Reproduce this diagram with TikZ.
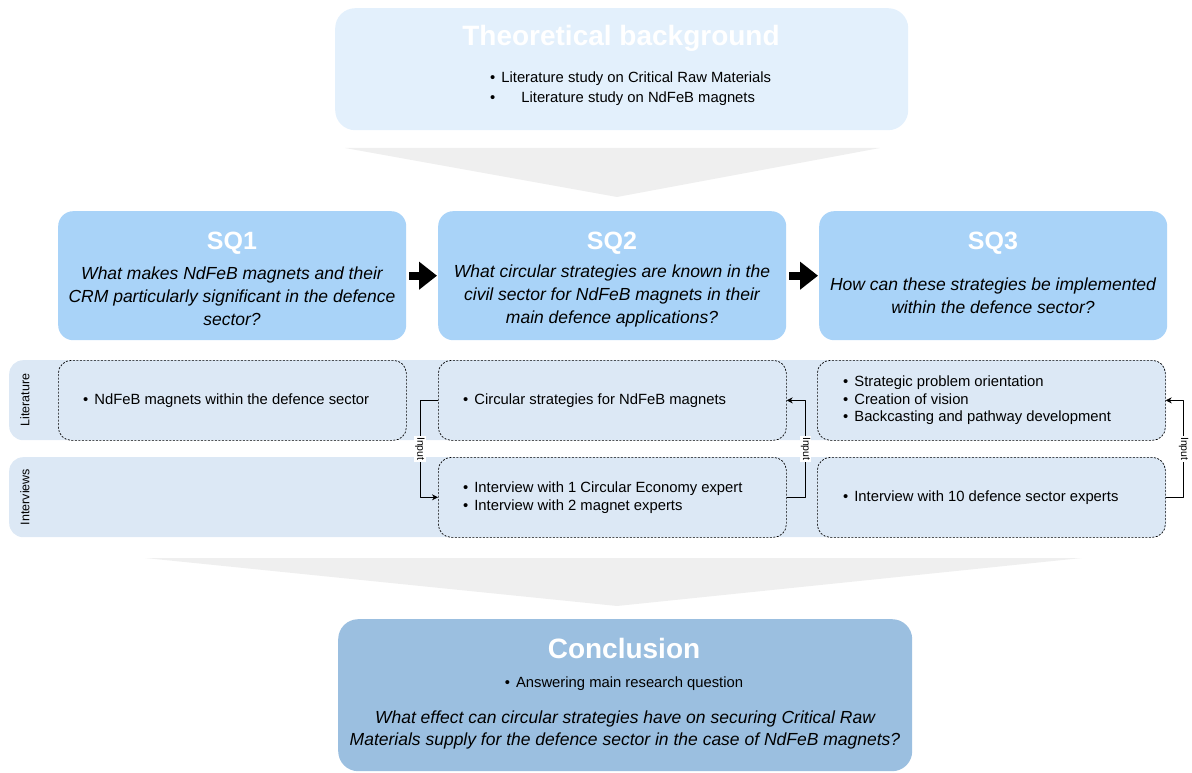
\documentclass[tikz,border=0pt]{standalone}
\usepackage{fontspec}
\setmainfont{Liberation Sans}
\usetikzlibrary{positioning,arrows.meta}
\definecolor{topfill}{HTML}{E3F0FC}
\definecolor{sqfill}{HTML}{A9D3F8}
\definecolor{lanefill}{HTML}{DCE8F5}
\definecolor{conclfill}{HTML}{9BBFE0}
\definecolor{chevfill}{HTML}{EFEFEF}
\begin{document}
\begin{tikzpicture}[x=1pt,y=-1pt,line join=round,
  font=\fontsize{14.8}{17.5}\selectfont,
  panel/.style={anchor=north west,inner sep=0pt,rounded corners=15pt},
  sqbox/.style={panel,fill=sqfill,minimum width=348pt,minimum height=129pt},
  dashbox/.style={panel,draw,fill=lanefill,dash pattern=on 2pt off 1.5pt,line width=0.7pt,
    rounded corners=13pt,minimum width=348pt,minimum height=80pt},
  laneband/.style={panel,fill=lanefill,rounded corners=14pt,minimum width=1157pt,minimum height=80pt},
  bigtitle/.style={text=white,font=\fontsize{28}{32}\selectfont\bfseries},
  sqtitle/.style={text=white,font=\fontsize{25}{30}\selectfont\bfseries},
  question/.style={align=center,font=\fontsize{17.5}{23}\selectfont\itshape},
  items/.style={anchor=west,align=left,inner sep=0pt},
  lanelabel/.style={rotate=90,font=\fontsize{12.5}{15}\selectfont},
  bigarrow/.style={line width=8pt,-{Triangle[length=18pt,width=27pt]}},
  feed/.style={line width=0.8pt,-{Stealth[length=6pt,width=6pt]}},
  feedlabel/.style={rotate=-90,fill=white,inner sep=1pt,font=\fontsize{10.5}{12}\selectfont}]
\useasboundingbox (0,0) rectangle (1192,773);
% theoretical background
\node[panel,fill=topfill,rounded corners=20pt,minimum width=573pt,minimum height=122pt] (theory) at (335,8) {};
\node[bigtitle] (theorytitle) at (621,38) {Theoretical background};
\node[items,font=\fontsize{14.8}{20}\selectfont] (theoryitems) at (490,89)
  {\textbullet\hspace{6pt}Literature study on Critical Raw Materials\\
   \textbullet\hspace{26pt}Literature study on NdFeB magnets};
\fill[chevfill] (345,148) -- (880,148) -- (617,197) -- cycle;
% sub questions
\node[sqbox] (sq1) at (58,211) {};
\node[sqbox] (sq2) at (438,211) {};
\node[sqbox] (sq3) at (819,211) {};
\node[sqtitle] (sq1title) at (232,243) {SQ1};
\node[sqtitle] (sq2title) at (612,243) {SQ2};
\node[sqtitle] (sq3title) at (993,243) {SQ3};
\node[question] (sq1q) at (232,296) {What makes NdFeB magnets and their\\CRM particularly significant in the defence\\sector?};
\node[question] (sq2q) at (612,296) {What circular strategies are known in the\\civil sector for NdFeB magnets in their\\main defence applications?};
\node[question] (sq3q) at (993,296) {How can these strategies be implemented\\within the defence sector?};
\draw[bigarrow,shorten <=3pt,shorten >=1pt] (sq1) -- (sq2);
\draw[bigarrow,shorten <=3pt,shorten >=1pt] (sq2) -- (sq3);
% lanes
\node[laneband] (litlane) at (9,360) {};
\node[laneband] (intlane) at (9,457) {};
\node[lanelabel] (litlabel) at (25,400) {Literature};
\node[lanelabel] (intlabel) at (25,497) {Interviews};
\node[dashbox] (lit1) at (58,360) {};
\node[dashbox] (lit2) at (438,360) {};
\node[dashbox] (lit3) at (817,360) {};
\node[dashbox] (int2) at (438,457) {};
\node[dashbox] (int3) at (817,457) {};
\node[items,right=25pt of lit1.west] (lit1items) {\textbullet\hspace{6pt}NdFeB magnets within the defence sector};
\node[items,right=25pt of lit2.west] (lit2items) {\textbullet\hspace{6pt}Circular strategies for NdFeB magnets};
\node[items,right=26pt of lit3.west] (lit3items)
  {\textbullet\hspace{6pt}Strategic problem orientation\\
   \textbullet\hspace{6pt}Creation of vision\\
   \textbullet\hspace{6pt}Backcasting and pathway development};
\node[items,right=25pt of int2.west,font=\fontsize{14.8}{18}\selectfont] (int2items)
  {\textbullet\hspace{6pt}Interview with 1 Circular Economy expert\\
   \textbullet\hspace{6pt}Interview with 2 magnet experts};
\node[items,right=26pt of int3.west] (int3items) {\textbullet\hspace{6pt}Interview with 10 defence sector experts};
% inputs
\draw[feed] (lit2.west) -- ++(-18,0) |- node[feedlabel,pos=0.25] (in1) {Input} (int2.west);
\draw[feed] (int2.east) -- ++(19,0) |- node[feedlabel,pos=0.25] (in2) {Input} (lit2.east);
\draw[feed] (int3.east) -- ++(18,0) |- node[feedlabel,pos=0.25] (in3) {Input} (lit3.east);
% conclusion
\fill[chevfill] (145,558) -- (1082,558) -- (617,606) -- cycle;
\node[panel,fill=conclfill,rounded corners=20pt,minimum width=574pt,minimum height=152pt] (concl) at (338,619) {};
\node[bigtitle] (concltitle) at (624,648) {Conclusion};
\node (conclitem) at (624,684) {\textbullet\hspace{6pt}Answering main research question};
\node[question,font=\fontsize{17.5}{22.5}\selectfont\itshape] (conclq) at (625,730)
  {What effect can circular strategies have on securing Critical Raw\\
   Materials supply for the defence sector in the case of NdFeB magnets?};
\end{tikzpicture}
\end{document}
